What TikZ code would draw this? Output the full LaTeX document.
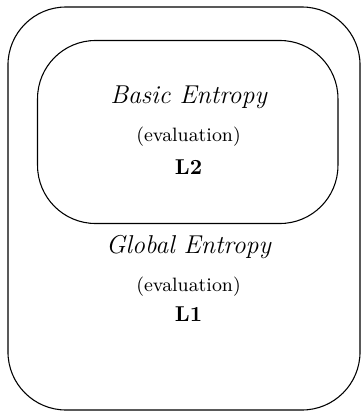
\documentclass[tikz,border=0pt]{standalone}
\begin{document}
\begin{tikzpicture}[x=0.465pt,y=-0.465pt,
  box/.style={draw,line width=0.5pt,rounded corners=27pt,inner sep=0pt},
  title/.style={anchor=base,font=\large\itshape,inner sep=0pt},
  sub/.style={anchor=base,font=\small,inner sep=0pt},
  lvl/.style={anchor=base,font=\normalsize\bfseries,inner sep=0pt}]
\useasboundingbox (0,0) rectangle (361,411);
\node[box,minimum width=163.7pt,minimum height=187.4pt] (outer) at (184,208.5) {};
\node[box,minimum width=139.7pt,minimum height=85.1pt] (inner) at (187.75,132) {};
\node[title] (bt) at (188.5,103) {Basic Entropy};
\node[sub] (be) at (188.5,141) {(evaluation)};
\node[lvl] (l2) at (188.5,174) {L2};
\node[title] (gt) at (188.5,253) {Global Entropy};
\node[sub] (ge) at (188.5,291) {(evaluation)};
\node[lvl] (l1) at (188.5,321) {L1};
\end{tikzpicture}
\end{document}
